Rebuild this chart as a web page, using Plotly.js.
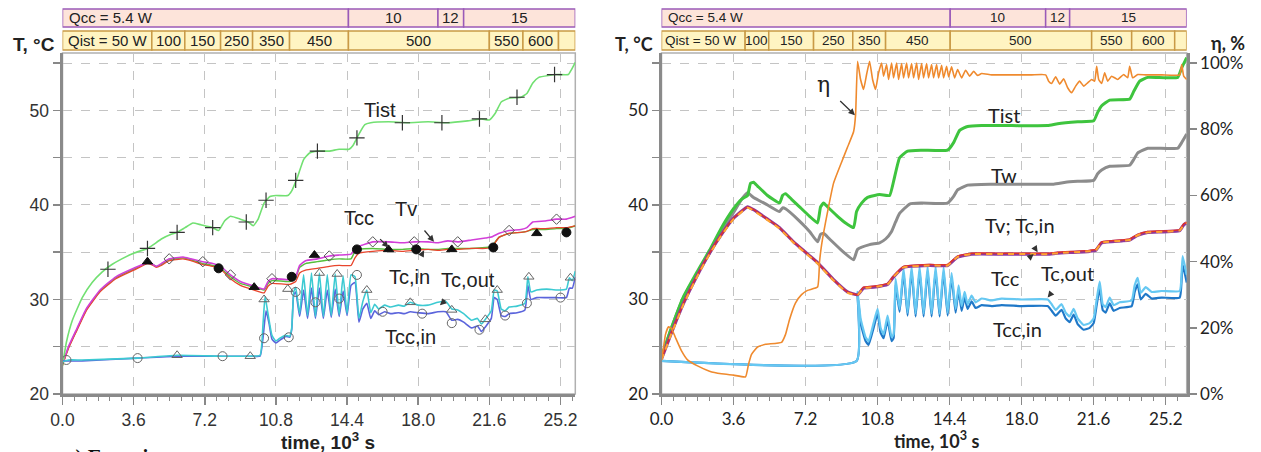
<!DOCTYPE html>
<html><head><meta charset="utf-8">
<script src="https://cdn.plot.ly/plotly-3.0.1.min.js"></script>
<style>html,body{margin:0;padding:0;background:#fff}#chart{width:1261px;height:452px}</style>
</head><body><div id="chart"></div>
<script>
// ---------- tick labels ----------
const xTickVals = [0, 3.6, 7.2, 10.8, 14.4, 18.0, 21.6, 25.2];
const xTickText = ["0.0", "3.6", "7.2", "10.8", "14.4", "18.0", "21.6", "25.2"];
const yTickVals = [20, 25, 30, 35, 40, 45, 50, 55];
const yTickText = ["20", "", "30", "", "40", "", "50", ""];
const etaTickVals = [0, 20, 40, 60, 80, 100];
const etaTickText = ["0%", "20%", "40%", "60%", "80%", "100%"];

// ---------- header (power levels) ----------
const qccLeftEdges = [0, 14.47, 19.0, 20.3, 25.95];
const qccLabels = ["Qcc = 5.4 W", "10", "12", "15"];
const qistLeftEdges = [0, 4.52, 6.19, 8.0, 9.62, 11.49, 14.47, 21.6, 23.3, 25.1, 25.95];
const qistLabels = ["Qist = 50 W", "100", "150", "250", "350", "450", "500", "550", "600", ""];
const qccRightEdges = [0, 14.43, 19.2, 20.4, 26.25];
const qistRightEdges = [0, 4.18, 5.36, 7.6, 9.56, 11.2, 14.43, 21.5, 23.5, 25.65, 26.25];

// ---------- LEFT chart series: [time 10^3 s, T °C] ----------
const L_Tist = [[0,23.0],[0.2,25.5],[0.5,27.8],[1.0,30.2],[1.5,31.8],[2.0,32.9],[2.5,33.7],[3.0,34.3],[3.6,34.9],[4.3,35.4],[4.6,35.8],[5.0,36.4],[5.5,36.9],[5.8,37.1],[6.2,37.6],[6.6,38.1],[7.0,37.9],[7.6,37.6],[7.9,37.3],[8.2,38.3],[8.5,38.8],[9.0,38.5],[9.4,38.2],[9.65,37.8],[9.9,38.5],[10.2,40.2],[10.5,40.9],[10.8,41.0],[11.4,41.0],[11.6,41.5],[11.9,43.0],[12.2,44.8],[12.5,45.5],[12.9,45.7],[13.5,45.7],[14.0,45.9],[14.5,45.9],[14.7,46.3],[15.0,47.5],[15.3,48.5],[15.6,48.7],[16.5,48.8],[17.5,48.7],[18.5,48.8],[19.5,48.7],[20.5,48.9],[21.2,49.1],[21.6,49.0],[21.9,49.7],[22.2,50.9],[22.6,51.3],[23.2,51.4],[23.5,51.8],[23.8,52.9],[24.1,53.5],[24.6,53.7],[25.0,53.8],[25.6,53.8],[25.75,54.3],[25.95,55.1]];
const L_TistMarks = [[2.3,33.2],[4.3,35.4],[5.8,37.1],[7.6,37.6],[9.3,38.2],[10.3,40.5],[11.8,42.6],[12.9,45.7],[14.9,47.1],[17.2,48.7],[19.2,48.7],[21.1,49.1],[23.0,51.4],[24.9,53.8]];

const L_Tv = [[0,23.2],[0.3,25.0],[0.7,26.8],[1.2,29.0],[1.9,31.0],[2.7,32.4],[3.6,33.3],[4.3,33.9],[4.5,33.8],[4.75,33.5],[5.0,33.8],[5.4,34.3],[6.1,34.5],[6.5,34.3],[7.1,34.0],[7.6,33.8],[8.0,33.5],[8.5,32.6],[9.0,31.9],[9.7,31.4],[10.2,31.1],[10.4,31.9],[10.6,32.2],[11.5,32.1],[11.8,32.4],[12.0,33.6],[12.3,34.1],[12.9,34.3],[13.5,34.6],[14.0,34.7],[14.6,34.8],[14.8,35.3],[15.0,35.6],[15.7,36.1],[16.5,36.1],[17.2,36.0],[17.8,36.1],[18.5,36.1],[19.0,36.0],[19.5,36.2],[20.0,36.1],[20.7,36.3],[21.4,36.5],[21.7,36.6],[22.1,37.0],[22.6,37.3],[23.2,37.4],[23.5,37.6],[23.8,38.2],[24.4,38.3],[25.0,38.5],[25.5,38.5],[25.95,38.8]];
const L_TvMarks = [[5.4,34.3],[7.1,34.0],[8.5,32.6],[10.6,32.2],[13.5,34.6],[15.7,36.1],[17.8,36.1],[20.0,36.1],[22.6,37.3],[25.0,38.5]];

const L_Tcc = [[0,23.0],[0.3,24.8],[0.7,26.6],[1.2,28.8],[1.9,30.8],[2.7,32.2],[3.6,33.1],[4.3,33.8],[4.5,33.7],[4.75,33.4],[5.0,33.6],[5.4,34.1],[6.1,34.3],[6.5,34.1],[7.1,33.7],[7.6,33.5],[8.0,33.2],[8.5,32.2],[9.0,31.5],[9.7,31.0],[10.2,30.7],[10.4,31.4],[10.6,31.7],[11.5,31.6],[11.8,31.9],[12.0,32.8],[12.3,33.1],[12.9,33.3],[13.5,33.5],[14.0,33.6],[14.6,33.6],[14.8,34.4],[15.0,34.9],[15.7,35.1],[16.5,35.2],[17.2,35.1],[17.8,35.2],[18.5,35.3],[19.0,35.2],[19.5,35.3],[20.0,35.3],[20.7,35.4],[21.4,35.4],[21.7,35.5],[22.1,36.6],[22.6,37.0],[23.2,37.1],[23.5,37.2],[23.8,37.5],[24.4,37.5],[25.0,37.6],[25.5,37.6],[25.95,37.8]];
const L_TccMarks = [[4.3,34.0],[9.7,31.3],[12.75,34.7],[16.5,35.3],[19.7,35.3],[24.0,37.0]];

const L_Tcin = [[0,23.1],[0.3,24.9],[0.7,26.7],[1.2,28.9],[1.9,30.9],[2.7,32.3],[3.6,33.2],[4.3,33.9],[4.5,33.8],[4.75,33.5],[5.0,33.7],[5.4,34.2],[6.1,34.4],[6.5,34.2],[7.1,33.8],[7.6,33.6],[8.0,33.3],[8.5,32.4],[9.0,31.7],[9.7,31.3],[10.2,31.0],[10.4,31.7],[10.6,32.0],[11.5,31.9],[11.8,32.3],[12.0,33.4],[12.3,33.8],[12.9,34.0],[13.5,34.2],[14.0,34.3],[14.6,34.3],[14.8,35.1],[15.0,35.3],[15.7,35.4],[16.5,35.3],[17.2,35.3],[17.8,35.4],[18.5,35.3],[19.0,35.3],[19.5,35.4],[20.0,35.4],[20.7,35.4],[21.4,35.5],[21.7,35.6],[22.1,36.6],[22.6,37.0],[23.2,37.1],[23.5,37.2],[23.8,37.4],[24.4,37.4],[25.0,37.5],[25.5,37.5],[25.95,37.8]];
const L_TcinMarks = [[7.9,33.3],[11.6,32.4],[14.9,35.3],[17.9,35.3],[21.8,35.5],[25.5,37.1]];

const L_Tcout = [[0,23.4],[0.3,23.6],[1,23.6],[3.8,23.8],[5.8,24.1],[8.1,24.0],[9.5,24.0],[10.0,24.1],[10.15,27.5],[10.25,30.3],[10.4,28.5],[10.6,26.2],[10.8,25.6],[11.0,25.9],[11.3,26.2],[11.5,26.1],[11.6,27.0],[11.7,30.8],[11.8,31.3],[12.0,28.5],[12.2,32.6],[12.4,28.3],[12.6,32.8],[12.8,28.2],[13.0,32.8],[13.2,28.2],[13.4,32.6],[13.6,28.3],[13.8,32.7],[14.0,28.4],[14.2,32.5],[14.4,28.5],[14.6,32.6],[14.8,32.4],[15.0,28.0],[15.2,29.8],[15.4,31.0],[15.6,28.6],[15.8,29.5],[16.0,29.0],[16.3,29.4],[16.6,29.2],[17.0,29.4],[17.3,29.3],[17.6,29.7],[18.0,29.4],[18.5,29.4],[19.0,29.7],[19.4,29.8],[19.7,29.0],[20.0,28.9],[20.3,28.5],[20.7,27.8],[21.0,28.0],[21.2,27.4],[21.4,27.9],[21.7,28.8],[21.85,31.0],[22.0,30.9],[22.2,29.0],[22.4,28.8],[22.6,29.2],[23.0,29.3],[23.4,29.6],[23.55,32.4],[23.7,30.8],[24.0,31.0],[24.5,31.1],[25.0,31.0],[25.5,31.1],[25.65,32.3],[25.8,32.0],[25.95,33.0]];
const L_TcoutMarks = [[5.8,24.1],[9.5,24.0],[10.2,30.0],[11.4,31.1],[13.0,32.8],[13.9,32.7],[15.4,31.0],[17.6,29.7],[19.7,28.9],[21.4,27.9],[22.0,31.0],[23.6,32.4],[25.7,32.3]];

const L_Tccin = [[0,23.5],[0.3,23.5],[1,23.5],[3.8,23.8],[5.8,24.0],[8.1,24.0],[9.5,24.0],[10.0,24.0],[10.15,26.0],[10.3,28.8],[10.45,27.5],[10.6,25.8],[10.8,25.4],[11.0,25.7],[11.3,26.1],[11.5,26.0],[11.6,26.8],[11.7,30.5],[11.8,30.8],[12.0,28.2],[12.2,31.0],[12.4,28.0],[12.6,31.2],[12.8,28.0],[13.0,31.2],[13.2,28.0],[13.4,31.0],[13.6,28.1],[13.8,31.1],[14.0,28.2],[14.2,30.9],[14.4,28.3],[14.6,31.5],[14.8,31.8],[15.0,27.6],[15.2,29.0],[15.4,29.6],[15.6,28.0],[15.8,28.8],[16.0,28.4],[16.3,28.7],[16.6,28.5],[17.0,28.6],[17.3,28.5],[17.6,28.7],[18.0,28.6],[18.5,28.5],[19.0,28.7],[19.4,28.7],[19.7,27.8],[20.0,27.9],[20.3,27.6],[20.7,27.0],[21.0,27.2],[21.2,26.6],[21.4,27.1],[21.7,28.0],[21.85,30.2],[22.0,30.0],[22.2,28.3],[22.4,28.2],[22.6,28.5],[23.0,28.6],[23.4,28.9],[23.55,31.5],[23.7,30.0],[24.0,30.2],[24.5,30.2],[25.0,30.2],[25.5,30.2],[25.65,31.2],[25.8,31.2],[25.95,32.4]];
const L_TccinMarks = [[0.2,23.6],[3.8,23.8],[8.1,24.0],[10.2,25.9],[11.45,26.0],[11.8,30.8],[12.8,29.7],[14.0,30.1],[14.9,32.6],[16.2,28.7],[18.2,28.5],[19.7,27.5],[21.1,26.8],[22.4,28.3],[23.5,29.6],[25.2,30.2]];

// ---------- RIGHT chart series ----------
const R_Tist = [[0,23.9],[0.5,27.0],[1.1,30.3],[1.8,33.0],[2.4,35.2],[3.0,37.6],[3.6,39.6],[4.0,40.6],[4.3,41.0],[4.45,42.3],[4.6,42.4],[4.8,42.0],[5.3,41.0],[5.9,40.2],[6.05,41.0],[6.2,41.2],[6.5,40.6],[6.9,39.8],[7.4,38.8],[7.8,38.1],[7.95,39.8],[8.1,40.2],[8.3,39.8],[8.8,38.8],[9.2,38.1],[9.6,37.6],[9.75,39.3],[10.0,40.2],[10.3,40.8],[10.9,41.1],[11.4,41.0],[11.6,42.5],[11.9,45.0],[12.3,45.7],[13.0,45.8],[14.3,45.8],[14.6,46.6],[14.9,47.9],[15.3,48.3],[16.0,48.4],[17.5,48.4],[19.3,48.4],[19.8,48.6],[20.8,48.8],[21.6,48.9],[21.8,49.8],[22.0,50.5],[22.4,51.1],[23.4,51.2],[23.6,52.0],[23.9,53.1],[24.3,53.5],[25.8,53.5],[26.0,54.5],[26.25,55.6]];
const R_Tw = [[0,23.9],[0.5,27.0],[1.1,30.2],[1.8,32.8],[2.4,34.9],[3.0,37.2],[3.6,39.2],[4.0,40.6],[4.3,41.3],[4.6,40.8],[5.3,40.0],[5.9,39.3],[6.05,39.7],[6.2,39.6],[6.9,38.3],[7.4,37.2],[7.8,36.1],[7.95,36.9],[8.1,37.0],[8.4,36.4],[9.0,35.2],[9.6,34.2],[9.8,35.3],[10.4,35.8],[10.9,36.0],[11.2,36.4],[11.5,37.2],[11.7,38.2],[11.9,39.1],[12.4,40.1],[13.0,40.2],[14.3,40.2],[14.6,40.9],[14.8,41.6],[15.3,42.1],[16.5,42.2],[18.0,42.2],[19.6,42.2],[20.2,42.4],[20.8,42.5],[21.6,42.6],[21.8,43.3],[22.0,43.7],[22.4,44.1],[23.4,44.2],[23.6,44.8],[23.8,45.5],[24.3,46.0],[25.8,46.0],[26.0,46.6],[26.25,47.5]];
const R_Tv = [[0,23.7],[0.5,26.5],[1.1,29.6],[1.8,32.6],[2.4,34.9],[3.0,36.9],[3.6,38.6],[4.3,39.8],[4.6,39.5],[5.3,38.5],[5.9,37.6],[6.6,36.1],[7.2,35.0],[7.8,33.9],[8.6,32.1],[9.3,30.8],[9.8,30.5],[10.1,31.2],[10.6,31.3],[11.3,31.6],[11.6,32.4],[12.1,33.4],[13.4,33.6],[14.3,33.6],[14.8,34.5],[15.5,34.8],[17.0,34.8],[18.5,34.8],[19.3,34.8],[19.8,34.9],[21.4,35.1],[21.7,35.2],[22.0,36.0],[23.0,36.2],[23.4,36.3],[23.8,36.8],[24.3,37.1],[25.9,37.3],[26.1,37.9],[26.25,38.1]];
const R_Tcin = [[0,23.7],[0.5,26.5],[1.1,29.6],[1.8,32.6],[2.4,34.9],[3.0,36.9],[3.6,38.6],[4.3,39.8],[4.6,39.5],[5.3,38.5],[5.9,37.6],[6.6,36.1],[7.2,35.0],[7.8,33.9],[8.6,32.1],[9.3,30.8],[9.8,30.5],[10.1,31.3],[10.6,31.4],[11.3,31.7],[11.6,32.5],[12.1,33.5],[13.4,33.7],[14.3,33.7],[14.8,34.6],[15.5,34.9],[17.0,34.9],[18.5,34.9],[19.3,34.9],[19.8,35.0],[21.4,35.2],[21.7,35.3],[22.0,36.1],[23.0,36.3],[23.4,36.4],[23.8,36.9],[24.3,37.2],[25.9,37.4],[26.1,38.0],[26.25,38.2]];
const R_Tcc = [[0,23.6],[0.5,26.4],[1.1,29.5],[1.8,32.5],[2.4,34.8],[3.0,36.8],[3.6,38.5],[4.3,39.7],[4.6,39.4],[5.3,38.4],[5.9,37.5],[6.6,36.0],[7.2,34.9],[7.8,33.8],[8.6,32.0],[9.3,30.7],[9.8,30.5],[10.1,31.2],[10.6,31.3],[11.3,31.6],[11.6,32.4],[12.1,33.4],[13.4,33.6],[14.3,33.6],[14.8,34.5],[15.5,34.8],[17.0,34.8],[18.5,34.8],[19.3,34.8],[19.8,34.9],[21.4,35.1],[21.7,35.2],[22.0,36.0],[23.0,36.2],[23.4,36.3],[23.8,36.8],[24.3,37.1],[25.9,37.3],[26.1,37.9],[26.25,38.1]];
const R_Tcout = [[0,23.5],[9.75,23.5],[9.8,30.8],[9.95,28.0],[10.2,26.0],[10.35,25.6],[10.6,27.5],[10.8,29.0],[10.95,27.0],[11.1,26.3],[11.3,28.3],[11.5,26.0],[11.6,26.3],[11.7,32.2],[11.9,29.0],[12.1,33.3],[12.3,28.6],[12.5,33.5],[12.7,28.5],[12.9,33.5],[13.1,28.5],[13.3,33.5],[13.5,28.5],[13.7,33.5],[13.9,28.5],[14.1,33.4],[14.3,28.6],[14.5,32.8],[14.7,29.0],[14.85,31.5],[15.0,29.3],[15.15,30.8],[15.3,29.5],[15.5,30.4],[15.7,29.7],[16.0,30.1],[16.5,29.9],[17.0,30.1],[18.0,30.0],[19.3,30.0],[19.5,29.5],[19.7,28.9],[20.0,29.5],[20.2,28.6],[20.4,28.2],[20.6,29.0],[20.8,28.0],[21.1,27.3],[21.4,27.5],[21.6,28.0],[21.75,30.0],[21.9,31.9],[22.05,29.5],[22.2,29.2],[22.4,30.2],[22.6,29.4],[22.9,29.7],[23.5,29.9],[23.65,31.5],[23.8,32.3],[23.95,30.7],[24.2,31.3],[24.5,30.8],[25.0,30.9],[25.9,30.9],[26.0,33.0],[26.05,34.6],[26.25,32.6]];
const R_Tccin = [[0,23.5],[9.75,23.5],[9.8,30.5],[9.95,27.5],[10.2,25.6],[10.35,25.2],[10.6,27.0],[10.8,28.5],[10.95,26.5],[11.1,25.9],[11.3,27.8],[11.5,25.6],[11.6,25.9],[11.7,31.6],[11.9,28.7],[12.1,32.8],[12.3,28.3],[12.5,33.0],[12.7,28.2],[12.9,33.0],[13.1,28.2],[13.3,33.0],[13.5,28.2],[13.7,33.0],[13.9,28.2],[14.1,32.9],[14.3,28.3],[14.5,32.3],[14.7,28.6],[14.85,31.0],[15.0,28.8],[15.15,30.2],[15.3,29.0],[15.5,29.8],[15.7,29.1],[16.0,29.4],[16.5,29.3],[17.0,29.4],[18.0,29.3],[19.3,29.3],[19.5,28.8],[19.7,28.3],[20.0,28.9],[20.2,28.0],[20.4,27.6],[20.6,28.4],[20.8,27.4],[21.1,26.8],[21.4,27.0],[21.6,27.5],[21.75,29.4],[21.9,31.2],[22.05,28.9],[22.2,28.6],[22.4,29.6],[22.6,28.8],[22.9,29.1],[23.5,29.3],[23.65,30.8],[23.8,31.6],[23.95,30.0],[24.2,30.6],[24.5,30.1],[25.0,30.2],[25.9,30.2],[26.0,32.2],[26.05,33.7],[26.25,31.8]];
// efficiency η, %
const R_eta = [[0,10.3],[0.1,14],[0.2,18],[0.35,20.3],[0.5,19.8],[0.7,17.0],[1.0,13.0],[1.3,10.3],[1.8,8.5],[2.4,6.9],[3.0,6.1],[3.6,5.7],[4.2,5.2],[4.35,9.0],[4.5,12.0],[4.8,14.2],[5.2,15.0],[6.0,15.6],[6.2,18.0],[6.4,22.5],[6.7,27.5],[7.0,30.0],[7.3,31.3],[7.8,32.3],[7.9,40.0],[8.0,45.0],[8.3,55.0],[8.6,63.7],[9.0,70.0],[9.3,74.6],[9.6,79.2],[9.7,84.3],[9.8,100.5],[9.95,95.0],[10.1,92.0],[10.25,96.5],[10.4,100.5],[10.55,95.0],[10.7,92.0],[10.85,97.0],[11.0,100.0],[11.1,96.0],[11.25,99.5],[11.35,95.0],[11.5,100.0],[11.6,95.5],[11.75,100.0],[11.85,95.0],[12.0,99.8],[12.1,95.5],[12.25,100.0],[12.35,95.5],[12.5,99.8],[12.6,95.5],[12.75,100.0],[12.85,95.0],[13.0,99.8],[13.1,95.5],[13.25,99.8],[13.35,95.5],[13.5,99.5],[13.6,95.5],[13.75,99.5],[13.85,95.5],[14.0,99.3],[14.1,95.5],[14.25,99.0],[14.35,95.8],[14.5,98.8],[14.65,95.5],[14.8,98.0],[15.0,95.5],[15.2,97.8],[15.4,96.0],[15.6,97.5],[15.8,96.2],[16.0,96.8],[16.5,96.4],[17.5,96.4],[18.5,96.4],[19.2,96.4],[19.35,94.5],[19.5,93.8],[19.7,95.8],[19.9,93.6],[20.1,95.2],[20.3,92.5],[20.5,91.0],[20.7,93.0],[20.9,94.5],[21.1,93.0],[21.3,94.0],[21.5,95.0],[21.65,94.5],[21.75,99.0],[21.85,95.0],[22.0,93.8],[22.15,97.0],[22.3,94.5],[22.5,96.0],[22.8,95.0],[23.1,96.5],[23.3,95.5],[23.4,99.0],[23.55,95.5],[23.8,96.5],[24.2,96.4],[25.0,96.4],[25.9,96.4],[26.0,99.5],[26.1,96.0],[26.25,95.0]];

// ---------- helpers ----------
const X = p => p.map(d => d[0]);
const Y = p => p.map(d => d[1]);
function line(p, color, width, xa, ya, dash) {
  return {x: X(p), y: Y(p), xaxis: xa, yaxis: ya, mode: 'lines', hoverinfo: 'skip',
          line: {color: color, width: width, dash: dash || 'solid', shape: 'spline', smoothing: 0.4}};
}
function marks(p, symbol, size, color, lw) {
  return {x: X(p), y: Y(p), xaxis: 'x', yaxis: 'y', mode: 'markers', hoverinfo: 'skip',
          marker: {symbol: symbol, size: size, color: color, line: {color: color, width: lw}}};
}

const traces = [
  line(L_Tcin, '#55c03c', 1.4, 'x', 'y'),
  line(L_Tcc, '#e8452c', 1.3, 'x', 'y'),
  line(L_Tv, '#d23fd8', 1.6, 'x', 'y'),
  line(L_Tist, '#72e072', 1.6, 'x', 'y'),
  line(L_Tccin, '#5b64dc', 1.6, 'x', 'y'),
  line(L_Tcout, '#3ccad2', 1.6, 'x', 'y'),
  marks(L_TistMarks, 'cross-thin-open', 11, '#333', 1.2),
  marks(L_TvMarks, 'diamond-open', 8, '#555', 1),
  marks(L_TccMarks, 'triangle-up', 9, '#111', 1),
  marks(L_TcinMarks, 'circle', 9, '#111', 1),
  marks(L_TcoutMarks, 'triangle-up-open', 9, '#666', 1),
  marks(L_TccinMarks, 'circle-open', 9, '#666', 1),

  line(R_eta, '#ef8a2e', 1.6, 'x2', 'y3'),
  line(R_Tccin, '#1f78c8', 2.2, 'x2', 'y2'),
  line(R_Tcout, '#66c8f2', 2.2, 'x2', 'y2'),
  line(R_Tw, '#8c8c8c', 3, 'x2', 'y2'),
  line(R_Tist, '#3ec43e', 3, 'x2', 'y2'),
  line(R_Tv, '#8e3a9c', 3.2, 'x2', 'y2'),
  line(R_Tcin, '#e0302a', 1.4, 'x2', 'y2'),
  line(R_Tcc, '#ffa532', 2, 'x2', 'y2', '6px,5px')
];

// ---------- layout ----------
const W = 1261, H = 452;
const yDom = [1 - 394 / H, 1 - 53 / H];
const leftDom = [62.5 / W, 575.3 / W];
const rightDom = [661.5 / W, 1186.7 / W];
const tRange = [20, 56.08];
const etaRange = [0, 103.0];

function xAxis(dom, rng, anchor, font) {
  return {domain: dom, range: rng, anchor: anchor, tickmode: 'array', tickvals: xTickVals, ticktext: xTickText,
    ticks: 'outside', ticklen: 8, tickwidth: 1.5, tickcolor: '#888', showline: true, linecolor: '#8a8a8a', linewidth: 3,
    showgrid: true, gridcolor: '#c4c4c4', griddash: 'dash', gridwidth: 1, zeroline: false, automargin: false,
    minor: {tickmode: 'linear', tick0: 0, dtick: 0.6, ticks: 'outside', ticklen: 4, tickcolor: '#888', tickwidth: 1, showgrid: false},
    tickfont: font, fixedrange: true};
}
function yAxis(anchor, font) {
  return {domain: yDom, range: tRange, anchor: anchor, tickmode: 'array', tickvals: yTickVals, ticktext: yTickText,
    ticks: 'outside', ticklen: 7, tickwidth: 1.5, tickcolor: '#888', showline: true, linecolor: '#8a8a8a', linewidth: 3,
    showgrid: true, gridcolor: '#c4c4c4', griddash: 'dash', gridwidth: 1, zeroline: false, automargin: false,
    tickfont: font, fixedrange: true};
}
const fL = {family: 'Liberation Sans, Arial, sans-serif', size: 17.5, color: '#333'};
const fR = {family: 'Lato, Liberation Sans, sans-serif', size: 17, color: '#222'};

const shapes = [];
const annotations = [];
function header(edges, labels, xa, y0, y1, fill, border, font, pad) {
  for (let i = 0; i < labels.length; i++) {
    shapes.push({type: 'rect', xref: xa, yref: 'paper', x0: edges[i], x1: edges[i + 1], y0: y0, y1: y1,
      fillcolor: fill, line: {color: border, width: 1.5}, layer: 'above'});
    if (labels[i] === '') continue;
    const first = i === 0;
    annotations.push({xref: xa, yref: 'paper', x: first ? edges[i] : (edges[i] + edges[i + 1]) / 2,
      xshift: first ? pad : 0, xanchor: first ? 'left' : 'center', y: (y0 + y1) / 2, yanchor: 'middle',
      text: labels[i], showarrow: false, font: font, borderpad: 0});
  }
}
const qccY = [1 - 27 / H, 1 - 9 / H];
const qistY = [1 - 50 / H, 1 - 31 / H];
const hf = {family: 'Liberation Sans, Arial, sans-serif', size: 15, color: '#222'};
const hfR = {family: 'Liberation Sans, Arial, sans-serif', size: 13.5, color: '#222'};
header(qccLeftEdges, qccLabels, 'x', qccY[0], qccY[1], '#fde4da', '#9a5ab8', hf, 5);
header(qistLeftEdges, qistLabels, 'x', qistY[0], qistY[1], '#fff4c2', '#c99a46', hf, 4);
header(qccRightEdges, qccLabels, 'x2', qccY[0], qccY[1], '#fde4da', '#9a5ab8', hfR, 5);
header(qistRightEdges, qistLabels, 'x2', qistY[0], qistY[1], '#fff4c2', '#c99a46', hfR, 2);

// plot frames (thin mirror lines)
shapes.push({type: 'rect', xref: 'x domain', yref: 'y domain', x0: 0, x1: 1, y0: 0, y1: 1, line: {color: '#b0b0b0', width: 1.5}, layer: 'below'});
shapes.push({type: 'rect', xref: 'x2 domain', yref: 'y2 domain', x0: 0, x1: 1, y0: 0, y1: 1, line: {color: '#b0b0b0', width: 1.5}, layer: 'below'});

// curve labels with arrows
const aL = {family: 'Liberation Sans, Arial, sans-serif', size: 20, color: '#222'};
const aR = {family: 'Lato, Liberation Sans, sans-serif', size: 20, color: '#222'};
function lab(text, tx, ty, xa, ya, font, tip) {
  const a = {xref: xa, yref: ya, text: text, font: font, showarrow: false, x: tx, y: ty, xanchor: 'center', yanchor: 'middle'};
  if (tip) {
    Object.assign(a, {showarrow: true, x: tip[0], y: tip[1], ax: tx, ay: ty, axref: xa, ayref: ya,
      arrowhead: 2, arrowsize: 1, arrowwidth: 1.3, arrowcolor: '#333', standoff: 0, startstandoff: 12});
  }
  annotations.push(a);
}
lab('Tist', 16.05, 50.05, 'x', 'y', aL);
lab('Tcc', 15.0, 38.6, 'x', 'y', aL, [16.5, 35.5]);
lab('Tv', 17.4, 39.6, 'x', 'y', aL, [18.8, 36.1]);
lab('Tc,in', 17.55, 32.4, 'x', 'y', aL, [18.3, 35.2]);
lab('Tc,out', 20.5, 32.1, 'x', 'y', aL, [19.1, 29.4]);
lab('Tcc,in', 17.6, 26.0, 'x', 'y', aL, [18.6, 28.4]);

lab('η', 8.1, 52.7, 'x2', 'y2', {family: 'DejaVu Serif, serif', size: 22, color: '#222'}, [9.67, 49.5]);
lab('Tist', 17.1, 49.5, 'x2', 'y2', aR);
lab('Tw', 17.1, 43.2, 'x2', 'y2', aR);
lab('Tv; Tc,in', 17.9, 37.9, 'x2', 'y2', aR, [18.8, 35.0]);
lab('Tcc', 17.2, 32.3, 'x2', 'y2', aR, [18.6, 34.8]);
lab('Tc,out', 20.3, 32.8, 'x2', 'y2', aR, [19.3, 30.2]);
lab('Tcc,in', 17.8, 26.9, 'x2', 'y2', aR, [18.7, 29.2]);

// axis titles
const bL = {family: 'Liberation Sans, Arial, sans-serif', size: 19, color: '#222', weight: 'bold'};
const bR = {family: 'Lato, Liberation Sans, sans-serif', size: 18, color: '#222', weight: 'bold'};
function ptxt(text, px, py, font, xanchor, yanchor) {
  annotations.push({xref: 'paper', yref: 'paper', x: px / W, y: 1 - py / H, xanchor: xanchor || 'center', yanchor: yanchor || 'middle', text: text, showarrow: false, font: font, borderpad: 0});
}
ptxt('T, °C', 34, 44, bL);
ptxt('time, 10<sup>3</sup> s', 328, 440.5, bL);
ptxt('T, °C', 634, 44, bR);
ptxt('η, %', 1228, 43, bR);
ptxt('time, 10<sup>3</sup> s', 936, 439.5, bR);
ptxt('a) Experiment', 64, 444, {family: 'Liberation Serif, serif', size: 21, color: '#111', weight: 'bold'}, 'left', 'top');

const layout = {
  width: W, height: H, margin: {l: 0, r: 0, t: 0, b: 0}, paper_bgcolor: '#fff', plot_bgcolor: '#fff',
  showlegend: false,
  xaxis: xAxis(leftDom, [0, 25.95], 'y', fL),
  yaxis: yAxis('x', fL),
  xaxis2: xAxis(rightDom, [0, 26.25], 'y2', fR),
  yaxis2: yAxis('x2', fR),
  yaxis3: {domain: yDom, range: etaRange, overlaying: 'y2', side: 'right', anchor: 'x2', tickmode: 'array',
    tickvals: etaTickVals, ticktext: etaTickText, ticks: 'outside', ticklen: 7, tickwidth: 1.5, tickcolor: '#888',
    showline: true, linecolor: '#8a8a8a', linewidth: 3, showgrid: false, zeroline: false, automargin: false,
    tickfont: fR, fixedrange: true},
  shapes: shapes, annotations: annotations
};

Plotly.newPlot('chart', traces, layout, {staticPlot: true, displayModeBar: false});
</script></body></html>
